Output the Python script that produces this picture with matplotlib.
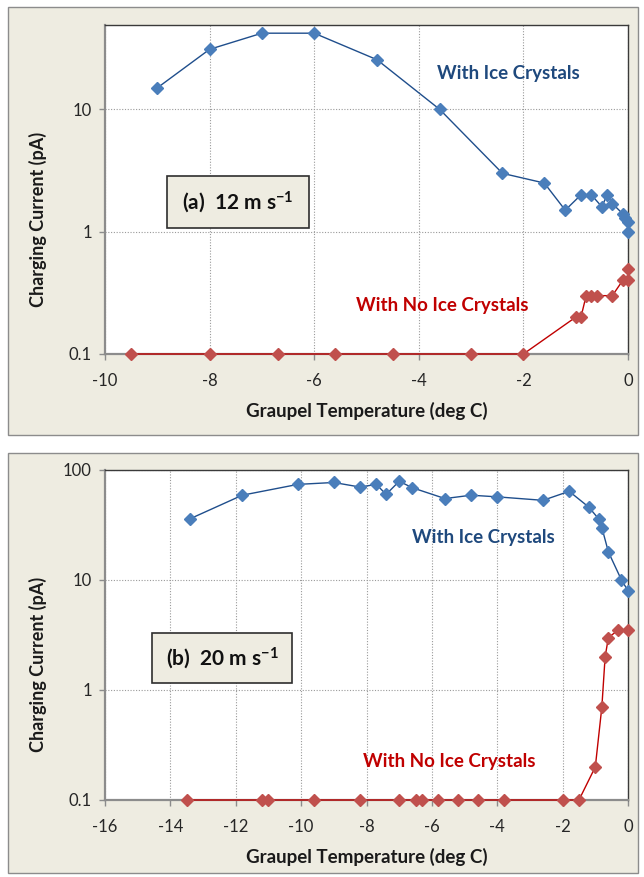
import matplotlib

matplotlib.use("Agg")

import matplotlib.pyplot as plt
from matplotlib.patches import Rectangle
from matplotlib.ticker import FixedLocator, FuncFormatter, NullLocator

# panel (a): 12 m/s
temp_a_ice = [-9, -8, -7, -6, -4.8, -3.6, -2.4, -1.6, -1.2, -0.9, -0.7, -0.5, -0.4,
              -0.3, -0.1, -0.05, 0, 0]
current_a_ice = [15, 31, 42, 42, 25.5, 10, 3, 2.5, 1.5, 2, 2, 1.6, 2, 1.7, 1.4, 1.3, 1.2,
                 1.0]
temp_a_noice = [-9.5, -8, -6.7, -5.6, -4.5, -3, -2, -1, -0.9, -0.8, -0.7, -0.6, -0.3,
                -0.1, 0, 0]
current_a_noice = [0.1, 0.1, 0.1, 0.1, 0.1, 0.1, 0.1, 0.2, 0.2, 0.3, 0.3, 0.3, 0.3,
                   0.4, 0.4, 0.5]

# panel (b): 20 m/s
temp_b_ice = [-13.4, -11.8, -10.1, -9.0, -8.2, -7.7, -7.4, -7.0, -6.6, -5.6, -4.8, -4.0,
              -2.6, -1.8, -1.2, -0.9, -0.8, -0.6, -0.2, 0]
current_b_ice = [36, 59, 74, 77, 70, 74, 60, 79, 69, 55, 59, 57, 53, 64, 46, 36, 30, 18,
                 10, 8]
temp_b_noice = [-13.5, -11.2, -11.0, -9.6, -8.2, -7.0, -6.5, -6.3, -5.8, -5.2, -4.6, -3.8,
                -2.0, -1.5, -1.0, -0.8, -0.7, -0.6, -0.3, 0]
current_b_noice = [0.1, 0.1, 0.1, 0.1, 0.1, 0.1, 0.1, 0.1, 0.1, 0.1, 0.1, 0.1, 0.1, 0.1,
                   0.2, 0.7, 2.0, 3.0, 3.5, 3.5]

xticks_a = [-10, -8, -6, -4, -2, 0]
xticks_b = [-16, -14, -12, -10, -8, -6, -4, -2, 0]
yticks_a = [0.1, 1, 10]
yticks_b = [0.1, 1, 10, 100]

W, H = 644, 877
BG = "#EEECE1"
ICE_MARK = "#4A7EBB"
ICE_LINE = "#1F4E8C"
ICE_TEXT = "#1F497D"
NOICE_MARK = "#C0504D"
NOICE_LINE = "#C00000"
LABEL_SIZE = 13.5

plt.rcParams["font.family"] = ["Lato", "DejaVu Sans"]
plt.rcParams["mathtext.fontset"] = "custom"
plt.rcParams["mathtext.rm"] = "Lato:bold"
plt.rcParams["mathtext.it"] = "Lato:bold"
plt.rcParams["mathtext.bf"] = "Lato:bold"

fig = plt.figure(figsize=(W / 100, H / 100), dpi=100)
fig.patch.set_facecolor("white")


def fx(x):
    return x / W


def fy(y):
    return 1 - y / H


def px_box(left, top, right, bottom, **kw):
    fig.patches.append(
        Rectangle((fx(left), fy(bottom)), (right - left) / W, (bottom - top) / H,
                  transform=fig.transFigure, **kw)
    )


def px_text(x, y, s, **kw):
    fig.text(fx(x), fy(y), s, ha="center", va="center", fontweight="bold", **kw)


def panel(box, axes_box, xlim, ylim, xticks, yticks):
    px_box(*box, facecolor=BG, edgecolor="#8C8C8C", linewidth=1.0, zorder=-5)
    l, t, r, b = axes_box
    ax = fig.add_axes([fx(l), fy(b), (r - l) / W, (b - t) / H])
    ax.set_facecolor("white")
    ax.set_yscale("log")
    ax.set_xlim(*xlim)
    ax.set_ylim(*ylim)
    ax.xaxis.set_major_locator(FixedLocator(xticks))
    ax.yaxis.set_major_locator(FixedLocator(yticks))
    ax.yaxis.set_minor_locator(NullLocator())
    ax.yaxis.set_major_formatter(FuncFormatter(lambda v, _: f"{v:g}"))
    ax.xaxis.set_major_formatter(FuncFormatter(lambda v, _: f"{v:g}"))
    ax.grid(True, color="#9A9A9A", linestyle=(0, (1, 1.5)), linewidth=0.8)
    ax.set_axisbelow(True)
    for side in ("left", "bottom"):
        ax.spines[side].set_color("#8C8C8C")
        ax.spines[side].set_linewidth(1.6)
    for side in ("top", "right"):
        ax.spines[side].set_color("#3A3A3A")
        ax.spines[side].set_linewidth(1.0)
    ax.tick_params(axis="both", direction="out", length=4.5, width=1, color="#8C8C8C",
                   labelsize=12, labelcolor="#262626")
    ax.tick_params(axis="x", pad=9)
    ax.tick_params(axis="y", pad=5)

    h = b - t
    w = r - l
    ax.set_xlabel("Graupel Temperature (deg C)", fontsize=LABEL_SIZE, fontweight="bold",
                  color="#1A1A1A")
    ax.xaxis.set_label_coords(0.5, -57 / h)
    ax.xaxis.label.set_verticalalignment("center")
    ax.set_ylabel("Charging Current (pA)", fontsize=LABEL_SIZE - 0.5, fontweight="bold",
                  color="#1A1A1A")
    ax.yaxis.set_label_coords((38 - l) / w, 0.41)
    ax.yaxis.label.set_verticalalignment("center")
    return ax


def draw_series(ax, x, y, mark, line):
    ax.plot(x, y, color=line, linewidth=1.0, marker="D", markersize=6.5,
            markerfacecolor=mark, markeredgecolor=mark, clip_on=False, zorder=3)


def speed_box(left, top, right, bottom, label):
    px_box(left, top, right, bottom, facecolor=BG, edgecolor="#2E2E2E", linewidth=1.2,
           zorder=5)
    t = fig.text(fx((left + right) / 2), fy((top + bottom) / 2), label, ha="center",
                 va="center", fontsize=15, fontweight="bold", color="#111111")
    t.set_zorder(6)


# panel (a)
ax_a = panel((8, 7, 638, 435), (105, 25, 628, 354), (-10, 0), (0.1, 49), xticks_a, yticks_a)
draw_series(ax_a, temp_a_ice, current_a_ice, ICE_MARK, ICE_LINE)
draw_series(ax_a, temp_a_noice, current_a_noice, NOICE_MARK, NOICE_LINE)
px_text(508, 74, "With Ice Crystals", color=ICE_TEXT, fontsize=LABEL_SIZE)
px_text(442, 306, "With No Ice Crystals", color=NOICE_LINE, fontsize=LABEL_SIZE)
speed_box(167, 176, 309, 228, r"(a)  12 m s$^{-1}$")

# panel (b)
ax_b = panel((8, 453, 638, 873), (105, 470, 628, 800), (-16, 0), (0.1, 100), xticks_b,
             yticks_b)
draw_series(ax_b, temp_b_ice, current_b_ice, ICE_MARK, ICE_LINE)
draw_series(ax_b, temp_b_noice, current_b_noice, NOICE_MARK, NOICE_LINE)
px_text(483, 537, "With Ice Crystals", color=ICE_TEXT, fontsize=LABEL_SIZE)
px_text(449, 761, "With No Ice Crystals", color=NOICE_LINE, fontsize=LABEL_SIZE)
speed_box(152, 633, 292, 683, r"(b)  20 m s$^{-1}$")

fig.savefig("out.png", dpi=100, facecolor="white")
